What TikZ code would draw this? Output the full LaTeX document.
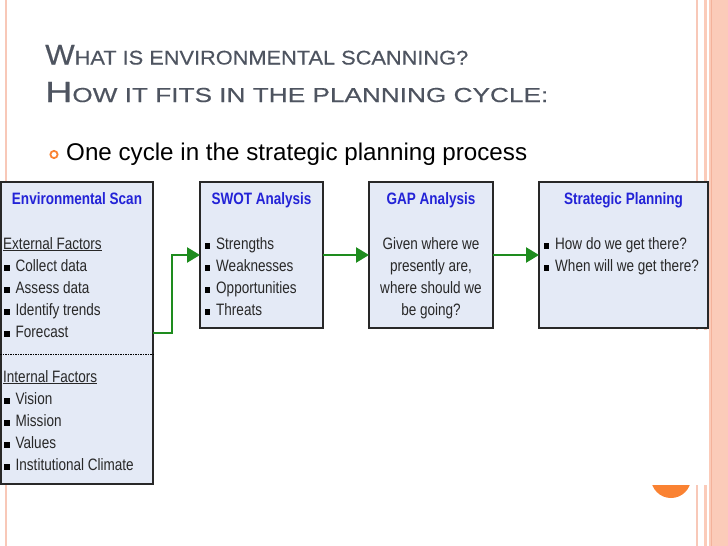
\documentclass[tikz,border=0pt]{standalone}
\usepackage{fontspec}
\setmainfont{Liberation Sans}
\newfontfamily\nar[FakeStretch=0.82]{Liberation Sans}
\newfontfamily\hdfont[FakeBold=0.35]{Liberation Sans}
\usetikzlibrary{arrows.meta}
\definecolor{boxfill}{RGB}{228,234,246}
\definecolor{boxline}{RGB}{40,40,40}
\definecolor{ttlblue}{RGB}{35,35,215}
\definecolor{bodytext}{RGB}{40,40,40}
\definecolor{headgray}{RGB}{78,84,96}
\definecolor{flowgreen}{RGB}{30,140,30}
\definecolor{salmon}{RGB}{251,203,185}
\definecolor{salmondark}{RGB}{244,178,155}
\definecolor{salmonline}{RGB}{248,200,184}
\definecolor{accent}{RGB}{250,130,50}
\newcommand\hdbig[1]{{\fontsize{28pt}{28pt}\selectfont #1}}
\newcommand\hdsmall[1]{{\fontsize{19.5pt}{20pt}\selectfont #1}}
\newcommand\sqb{\textcolor{black}{\raisebox{0.5pt}{\rule{5.5pt}{6pt}}}}
\begin{document}
\begin{tikzpicture}[x=1pt,y=-1pt,
  box/.style={draw=boxline, fill=boxfill, line width=1.7pt, inner sep=0pt, outer sep=0pt, rectangle},
  ttl/.style={font={\nar\bfseries\fontsize{16.5pt}{18pt}\selectfont}, text=ttlblue, inner sep=0pt, anchor=base},
  body/.style={font={\nar\fontsize{16.5pt}{18pt}\selectfont}, text=bodytext, inner sep=0pt, anchor=base west},
  bodyc/.style={font={\nar\fontsize{16.5pt}{18pt}\selectfont}, text=bodytext, inner sep=0pt, anchor=base},
  flow/.style={draw=flowgreen, line width=2.5pt, -{Triangle[length=13pt,width=15pt]}},
  head/.style={text=headgray, font=\hdfont, inner sep=0pt, anchor=base west}]
\useasboundingbox (0,0) rectangle (728,546);
\fill[white] (0,0) rectangle (728,546);
% slide decorations
\fill[salmon] (709,0) rectangle (728,546);
\draw[salmondark, line width=1pt] (711,0) -- (711,546);
\draw[salmonline, line width=1.2pt] (697,0) -- (697,330);
\draw[salmon, line width=3pt] (705.5,0) -- (705.5,330);
\draw[salmonline, line width=1.2pt] (697,485) -- (697,546);
\draw[salmon, line width=3pt] (705.5,485) -- (705.5,546);
\draw[salmonline, line width=2pt] (6,0) -- (6,546);
\begin{scope}
\clip (640,485) rectangle (700,520);
\fill[accent] (671,478) circle (20);
\end{scope}
% heading
\node[head] (h1) at (45,64.5) {\resizebox{423pt}{19.5pt}{\hdbig{W}\hdsmall{HAT IS ENVIRONMENTAL SCANNING?}}};
\node[head] (h2) at (45,102) {\resizebox{503pt}{20pt}{\hdbig{H}\hdsmall{OW IT FITS IN THE PLANNING CYCLE:}}};
\draw[accent, line width=1.8pt] (54,154.5) circle (3.6);
\node[inner sep=0pt, anchor=base west] (b1) at (66,160) {\resizebox{461pt}{!}{\fontsize{21pt}{24pt}\selectfont One cycle in the strategic planning process}};
% boxes
\node[box, minimum width=152pt, minimum height=302pt] (env) at (77,333) {};
\node[box, minimum width=123pt, minimum height=146pt] (swot) at (261.5,255) {};
\node[box, minimum width=124pt, minimum height=146pt] (gap) at (431,255) {};
\node[box, minimum width=169pt, minimum height=146pt] (sp) at (623.5,255) {};
\draw[black, line width=0.8pt, dash pattern=on 1.5pt off 1pt] (0,354) -- (155,354);
% environmental scan
\node[ttl] (envt) at (77,204) {Environmental Scan};
\node[body] (e0) at (3,249) {\underline{External Factors}};
\node[body] (e1) at (4,271) {\sqb\hspace{6pt}Collect data};
\node[body] (e2) at (4,293) {\sqb\hspace{6pt}Assess data};
\node[body] (e3) at (4,315) {\sqb\hspace{6pt}Identify trends};
\node[body] (e4) at (4,337) {\sqb\hspace{6pt}Forecast};
\node[body] (i0) at (3,382) {\underline{Internal Factors}};
\node[body] (i1) at (4,404) {\sqb\hspace{6pt}Vision};
\node[body] (i2) at (4,426) {\sqb\hspace{6pt}Mission};
\node[body] (i3) at (4,448) {\sqb\hspace{6pt}Values};
\node[body] (i4) at (4,470) {\sqb\hspace{6pt}Institutional Climate};
% swot
\node[ttl] (swott) at (261.5,204) {SWOT Analysis};
\node[body] (s1) at (204.5,249) {\sqb\hspace{6pt}Strengths};
\node[body] (s2) at (204.5,271) {\sqb\hspace{6pt}Weaknesses};
\node[body] (s3) at (204.5,293) {\sqb\hspace{6pt}Opportunities};
\node[body] (s4) at (204.5,315) {\sqb\hspace{6pt}Threats};
% gap
\node[ttl] (gapt) at (431,204) {GAP Analysis};
\node[bodyc] (g1) at (431,249) {Given where we};
\node[bodyc] (g2) at (431,271) {presently are,};
\node[bodyc] (g3) at (431,293) {where should we};
\node[bodyc] (g4) at (431,315) {be going?};
% strategic planning
\node[ttl] (spt) at (623.5,204) {Strategic Planning};
\node[body] (p1) at (543.5,249) {\sqb\hspace{6pt}How do we get there?};
\node[body] (p2) at (543.5,271) {\sqb\hspace{6pt}When will we get there?};
% connectors
\draw[flow] (env.east) -- ++(19,0) |- (swot.west);
\draw[flow] (swot.east) -- (gap.west);
\draw[flow] (gap.east) -- (sp.west);
\end{tikzpicture}
\end{document}
